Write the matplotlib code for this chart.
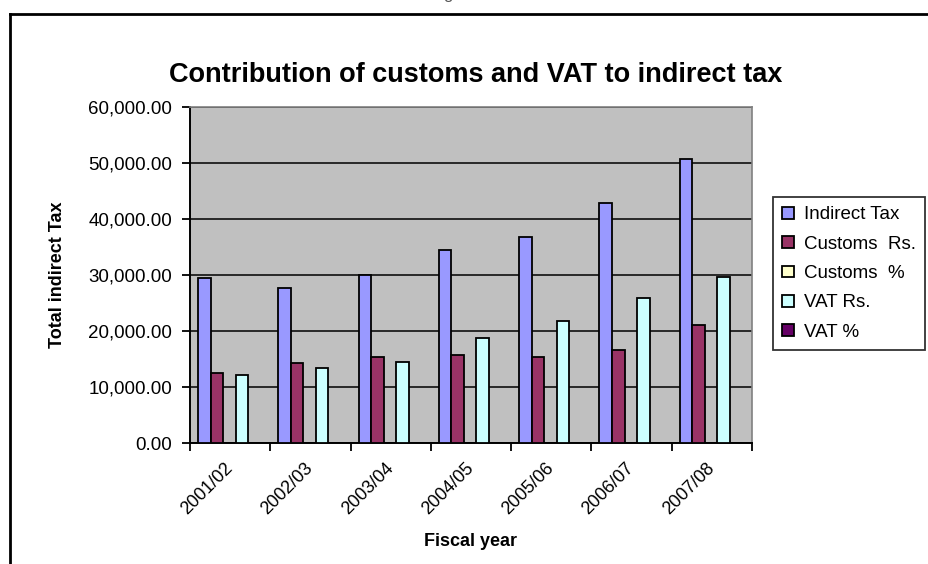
import matplotlib.pyplot as plt
from matplotlib.lines import Line2D
from matplotlib.ticker import FuncFormatter, MultipleLocator, FixedLocator
from matplotlib.transforms import ScaledTranslation
import numpy as np

plt.rcParams['font.family'] = ['Liberation Sans', 'DejaVu Sans']

# Fiscal years and tax collections (Rs. million) plus shares (%)
years = ['2001/02', '2002/03', '2003/04', '2004/05', '2005/06', '2006/07', '2007/08']
indirect_tax = [29400, 27700, 30000, 34500, 36800, 42800, 50800]
customs_rs = [12550, 14200, 15350, 15650, 15400, 16550, 21050]
customs_pct = [42.7, 51.3, 51.2, 45.4, 41.8, 38.7, 41.4]
vat_rs = [12200, 13400, 14500, 18800, 21700, 25900, 29700]
vat_pct = [41.5, 48.4, 48.3, 54.5, 59.0, 60.5, 58.5]

series = [
    ('Indirect Tax', indirect_tax, '#9999FF'),
    ('Customs  Rs.', customs_rs, '#993366'),
    ('Customs  %', customs_pct, '#FFFFCC'),
    ('VAT Rs.', vat_rs, '#CCFFFF'),
    ('VAT %', vat_pct, '#660066'),
]

fig = plt.figure(figsize=(9.29, 5.64), dpi=100)
ax = fig.add_axes([190/929, 1 - 443/564, 562/929, 336/564])
ax.set_facecolor('#C0C0C0')

x = np.arange(len(years))
width = 0.156
start = 0.10
for k, (name, vals, col) in enumerate(series):
    ax.bar(x + start + k*width, vals, width, align='edge', color=col,
           edgecolor='black', linewidth=1.3, label=name, zorder=3)

ax.set_xlim(0, len(years))
ax.set_ylim(0, 60000)
ax.yaxis.set_major_locator(MultipleLocator(10000))
ax.yaxis.set_major_formatter(FuncFormatter(lambda v, p: f'{v:,.2f}'))
ax.grid(axis='y', color='black', linewidth=1.1, zorder=1)

# tick marks on category boundaries, labels at the centres
ax.xaxis.set_major_locator(FixedLocator(np.arange(len(years) + 1)))
ax.xaxis.set_minor_locator(FixedLocator(x + 0.5))
ax.set_xticklabels([])
ax.set_xticklabels(years, minor=True, rotation=45, ha='right',
                   rotation_mode='anchor', fontsize=13)
ax.tick_params(axis='x', which='minor', length=0, pad=12)
ax.tick_params(axis='both', which='major', direction='out', length=6,
               width=1.3, color='black', labelsize=13.5)
ax.tick_params(axis='y', pad=7)
shift = ScaledTranslation(-6/100, 0, fig.dpi_scale_trans)
for lbl in ax.get_xticklabels(minor=True):
    lbl.set_transform(lbl.get_transform() + shift)

for side in ['top', 'right']:
    ax.spines[side].set_color('#808080')
    ax.spines[side].set_linewidth(1.2)
for side in ['left', 'bottom']:
    ax.spines[side].set_linewidth(1.4)

ax.set_ylabel('Total indirect Tax', fontsize=13, fontweight='bold')
ax.yaxis.set_label_coords((66 - 190)/562, 0.5)
ax.set_xlabel('Fiscal year', fontsize=13, fontweight='bold', va='center')
ax.xaxis.set_label_coords(0.5, -(541 - 443)/336)

fig.text(476/929, 1 - 75/564, 'Contribution of customs and VAT to indirect tax',
         ha='center', va='center', fontsize=19.5, fontweight='bold')

leg = fig.legend(loc='upper left', bbox_to_anchor=(773/929, 1 - 197/564),
                 borderaxespad=0, fontsize=13.5, frameon=True, fancybox=False,
                 handlelength=0.6, handleheight=0.6, handletextpad=0.55,
                 labelspacing=0.66, borderpad=0.5)
leg.get_frame().set_edgecolor('black')
leg.get_frame().set_linewidth(1.3)

# chart border (left and top edges)
fig.add_artist(Line2D([10/929, 10/929], [0, 1 - 14/564], color='black', linewidth=2))
fig.add_artist(Line2D([10/929, 1], [1 - 14/564, 1 - 14/564], color='black', linewidth=2))

fig.text(448/929, 1 + 1/564, 'g', ha='center', va='baseline', fontsize=12, color='#555555')

fig.savefig('out.png', dpi=100)
